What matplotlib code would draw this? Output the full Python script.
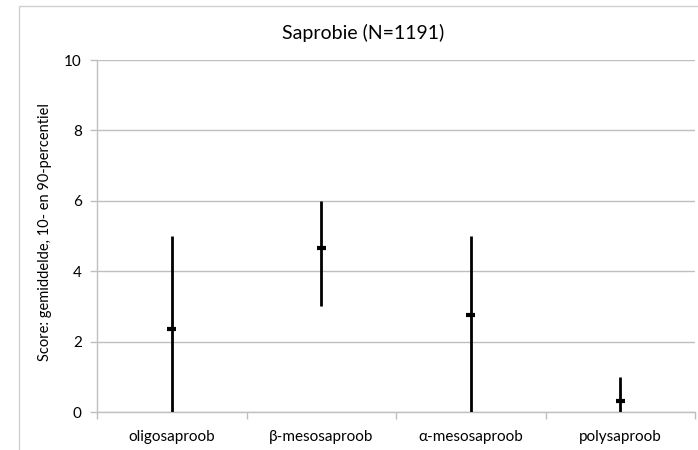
import matplotlib
matplotlib.use("Agg")
import matplotlib.pyplot as plt
from matplotlib.patches import Rectangle

categories = ["oligosaproob", "β-mesosaproob", "α-mesosaproob", "polysaproob"]
p10 = [0.0, 3.0, 0.0, 0.0]
p90 = [5.0, 6.0, 5.0, 1.0]
means = [2.37, 4.65, 2.75, 0.3]
yticks = [0, 2, 4, 6, 8, 10]

plt.rcParams['font.family'] = ['Lato', 'DejaVu Sans']

fig = plt.figure(figsize=(6.98, 4.5), dpi=100)
W, H = 698, 450
ax = fig.add_axes([97 / W, 1 - 412 / H, (695 - 97) / W, (412 - 60) / H])

# outer chart border (right and bottom edges fall outside the image)
fig.patches.append(Rectangle((19 / W, -0.2), 1.5, 1.2 - 6 / H, transform=fig.transFigure,
                             fill=False, edgecolor='#d0d0d0', linewidth=1.0))

x = list(range(len(categories)))
ax.vlines(x, p10, p90, colors='black', linewidth=2.0, zorder=3)
ax.errorbar(x, means, xerr=0.03, fmt='none', ecolor='black', elinewidth=3.0, capsize=0, zorder=4)

ax.set_xlim(-0.5, len(categories) - 0.5)
ax.set_ylim(0, 10)
ax.set_yticks(yticks)
ax.set_yticklabels([str(t) for t in yticks], fontsize=11)
ax.yaxis.grid(True, color='#bfbfbf', linewidth=1.0)
ax.set_axisbelow(True)

ax.set_xticks(x)
ax.set_xticklabels(categories, fontsize=11)
ax.tick_params(axis='x', length=0, pad=13)
ax.set_xticks([i + 0.5 for i in range(-1, len(categories))], minor=True)
ax.tick_params(axis='x', which='minor', length=5, color='#bfbfbf', width=1.0)
ax.tick_params(axis='y', length=5, color='#bfbfbf', width=1.0, pad=6)

for s in ['top', 'right']:
    ax.spines[s].set_visible(False)
for s in ['left', 'bottom']:
    ax.spines[s].set_color('#bfbfbf')
    ax.spines[s].set_linewidth(1.0)

ax.set_ylabel("Score: gemiddelde, 10- en 90-percentiel", fontsize=10.5, labelpad=7)
ax.yaxis.set_label_coords(-0.075, 0.51)
fig.text(363 / W, 1 - 33 / H, "Saprobie (N=1191)", ha='center', va='center', fontsize=14)

fig.savefig("out.png", dpi=100)
